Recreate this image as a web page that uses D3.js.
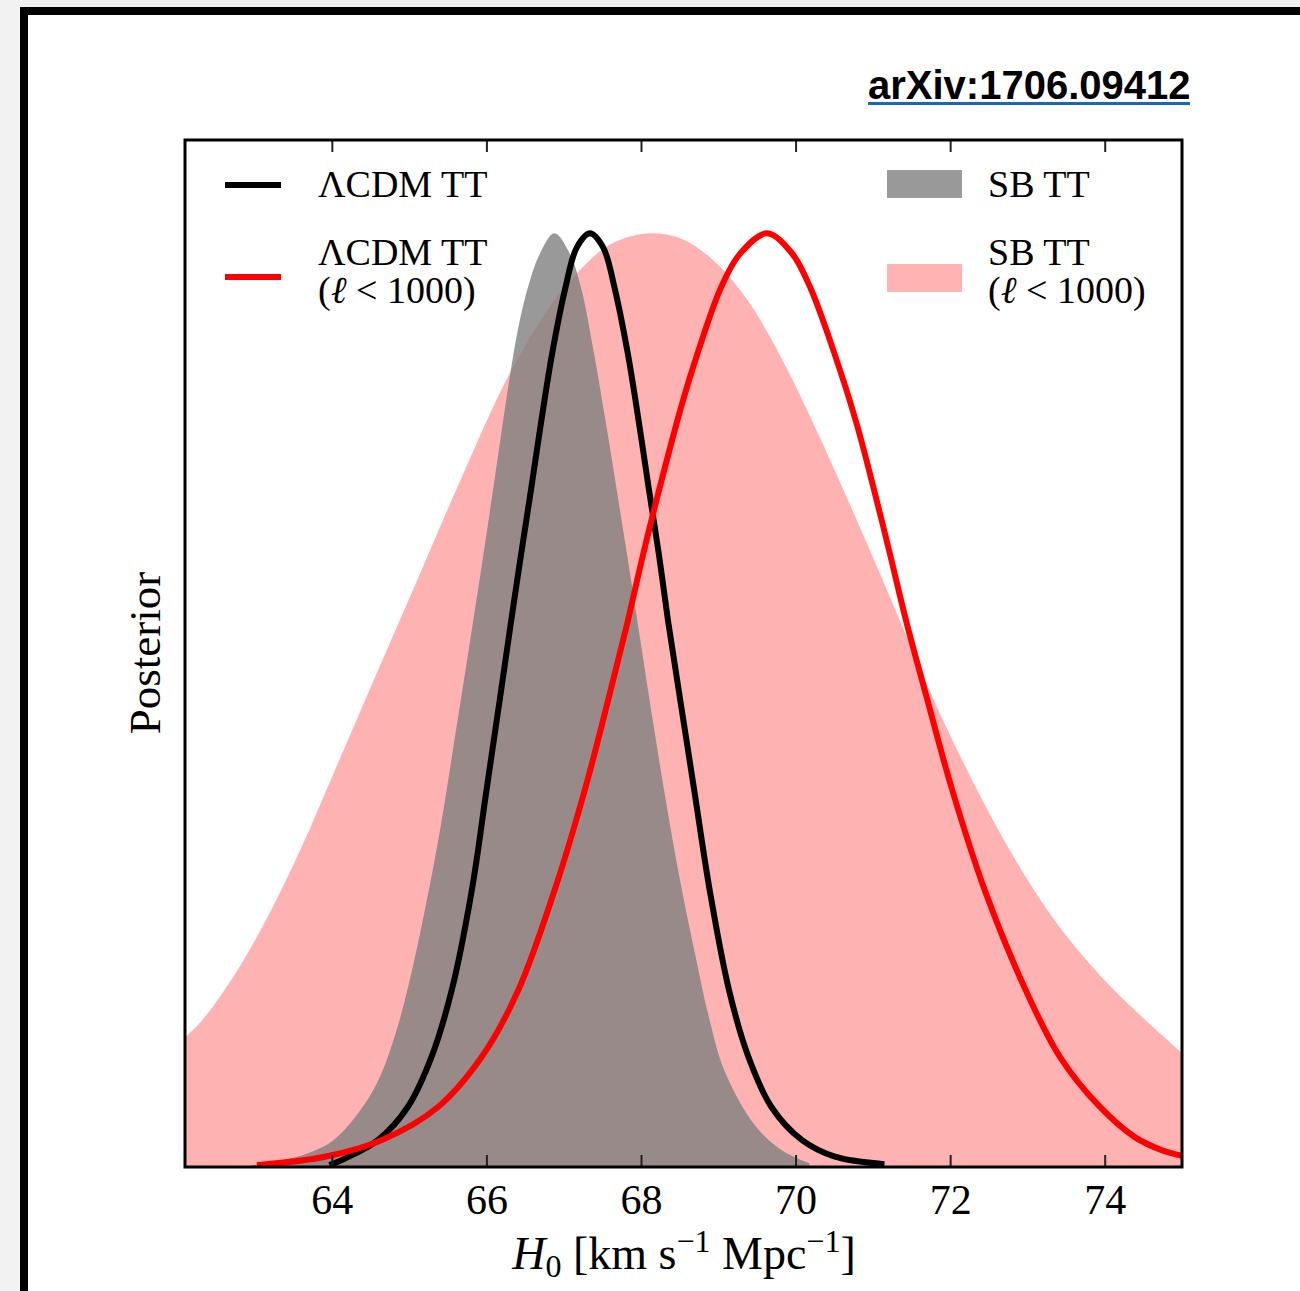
<!DOCTYPE html>
<html>
<head>
<meta charset="utf-8">
<script src="https://cdn.jsdelivr.net/npm/d3@7"></script>
<style>
  html, body { margin: 0; padding: 0; background: #ffffff; }
  svg { display: block; }
</style>
</head>
<body>
<svg id="chart" width="1300" height="1291"></svg>
<script>
// ---------------- DATA ----------------
const xTicks = [64, 66, 68, 70, 72, 74];
const yLabel = "Posterior";
const source = "arXiv:1706.09412";

// SB TT (l < 1000) : [H0, normalized posterior]
const sbTTlow = [
  [62.10,0.139],[62.32,0.157],[62.75,0.207],[63.17,0.268],[63.61,0.343],[64.04,0.425],
  [64.43,0.500],[65.07,0.622],[65.66,0.735],[66.30,0.850],[66.85,0.925],[67.20,0.960],
  [67.60,0.988],[68.10,1.000],[68.53,0.994],[68.95,0.970],[69.39,0.927],[69.82,0.866],
  [70.25,0.793],[70.69,0.712],[71.12,0.630],[71.54,0.548],[71.80,0.498],[72.19,0.430],
  [72.63,0.360],[73.06,0.300],[73.48,0.250],[73.92,0.207],[74.35,0.171],[75.00,0.122]
];
// SB TT
const sbTT = [
  [62.97,0.002],[63.30,0.006],[63.70,0.015],[64.04,0.030],[64.52,0.080],[64.85,0.150],
  [65.31,0.320],[65.63,0.480],[65.81,0.575],[65.95,0.650],[66.08,0.722],[66.20,0.790],
  [66.30,0.845],[66.41,0.898],[66.54,0.943],[66.69,0.978],[66.88,1.000],[67.08,0.978],
  [67.23,0.940],[67.38,0.877],[67.55,0.795],[67.70,0.718],[67.85,0.640],[67.99,0.565],
  [68.14,0.485],[68.31,0.398],[68.51,0.305],[68.70,0.228],[68.88,0.160],[69.08,0.103],
  [69.47,0.045],[69.82,0.018],[70.18,0.004]
];
// LCDM TT
const lcdmTT = [
  [63.97,0.002],[64.17,0.009],[64.60,0.029],[64.98,0.064],[65.29,0.118],[65.55,0.189],
  [65.81,0.296],[66.00,0.403],[66.17,0.499],[66.32,0.585],[66.45,0.657],[66.58,0.727],
  [66.71,0.799],[66.85,0.871],[67.02,0.941],[67.17,0.985],[67.34,1.000],[67.51,0.985],
  [67.66,0.941],[67.83,0.871],[67.97,0.799],[68.10,0.727],[68.23,0.657],[68.35,0.585],
  [68.51,0.499],[68.69,0.403],[68.89,0.296],[69.14,0.189],[69.39,0.118],[69.69,0.064],
  [70.08,0.029],[70.51,0.011],[71.15,0.003]
];
// LCDM TT (l < 1000)
const lcdmTTlow = [
  [63.03,0.002],[63.91,0.011],[64.65,0.029],[65.37,0.064],[65.94,0.118],[66.41,0.189],
  [66.88,0.296],[67.27,0.403],[67.59,0.505],[67.83,0.585],[68.03,0.657],[68.24,0.727],
  [68.54,0.820],[68.73,0.871],[69.03,0.941],[69.28,0.978],[69.63,1.000],[69.95,0.979],
  [70.19,0.942],[70.50,0.872],[70.78,0.799],[71.01,0.727],[71.22,0.657],[71.43,0.585],
  [71.69,0.505],[72.03,0.403],[72.45,0.296],[72.98,0.189],[73.42,0.118],[73.92,0.066],
  [74.39,0.032],[74.74,0.018],[75.00,0.012]
];

// ---------------- DRAWING ----------------
const svg = d3.select("#chart");
const L = 185, R = 1182, T = 140, B = 1167;
const serif = "'Liberation Serif', 'Times New Roman', serif";

// outer page frame
svg.append("rect").attr("x",0).attr("y",0).attr("width",1300).attr("height",1291).attr("fill","#ffffff");
svg.append("rect").attr("x",0).attr("y",0).attr("width",1300).attr("height",7).attr("fill","#efefef");
svg.append("rect").attr("x",0).attr("y",0).attr("width",20).attr("height",1291).attr("fill","#f2f2f2");
svg.append("rect").attr("x",20).attr("y",7).attr("width",1280).attr("height",8).attr("fill","#000");
svg.append("rect").attr("x",20).attr("y",7).attr("width",8).attr("height",1284).attr("fill","#000");

// source note
svg.append("text").attr("x",868).attr("y",99)
  .attr("font-family","'Liberation Sans', Arial, sans-serif").attr("font-weight","bold")
  .attr("font-size",40).attr("fill","#000").text(source);
svg.append("rect").attr("x",868).attr("y",102).attr("width",322).attr("height",3).attr("fill","#1466c8");

const xScale = d3.scaleLinear().domain([62.1, 75.0]).range([L, R]);
const yScale = d3.scaleLinear().domain([0, 1.1]).range([B, T]);

svg.append("defs").append("clipPath").attr("id","plotclip")
  .append("rect").attr("x",L).attr("y",T).attr("width",R-L).attr("height",B-T);

const plotG = svg.append("g").attr("clip-path","url(#plotclip)");

const smooth = d3.curveCatmullRom.alpha(0.5);
const areaGen = d3.area().x(d => xScale(d[0])).y0(yScale(0)).y1(d => yScale(d[1])).curve(smooth);
const lineGen = d3.line().x(d => xScale(d[0])).y(d => yScale(d[1])).curve(smooth);

plotG.append("path").datum(sbTTlow).attr("d", areaGen).attr("fill","#ff0000").attr("fill-opacity",0.3);
plotG.append("path").datum(sbTT).attr("d", areaGen).attr("fill","#808080").attr("fill-opacity",0.8);
plotG.append("path").datum(lcdmTT).attr("d", lineGen).attr("fill","none").attr("stroke","#000")
  .attr("stroke-width",6).attr("stroke-linejoin","round");
plotG.append("path").datum(lcdmTTlow).attr("d", lineGen).attr("fill","none").attr("stroke","#ff0000")
  .attr("stroke-width",6).attr("stroke-linejoin","round");

// axes
const bottomAxis = svg.append("g").attr("transform",`translate(0,${B})`)
  .call(d3.axisBottom(xScale).tickValues(xTicks).tickFormat(d3.format("d")).tickSizeInner(-12).tickSizeOuter(0).tickPadding(17));
bottomAxis.select(".domain").remove();
bottomAxis.selectAll(".tick line").attr("stroke","#222").attr("stroke-width",2);
bottomAxis.selectAll(".tick text").attr("font-family",serif).attr("font-size",42).attr("fill","#000");

const topAxis = svg.append("g").attr("transform",`translate(0,${T})`)
  .call(d3.axisTop(xScale).tickValues(xTicks).tickFormat("").tickSizeInner(-12).tickSizeOuter(0));
topAxis.select(".domain").remove();
topAxis.selectAll(".tick line").attr("stroke","#222").attr("stroke-width",2);

// frame
svg.append("rect").attr("x",L).attr("y",T).attr("width",R-L).attr("height",B-T)
  .attr("fill","none").attr("stroke","#000").attr("stroke-width",3);

// x label
const xl = svg.append("text").attr("x",684).attr("y",1269).attr("text-anchor","middle")
  .attr("font-family",serif).attr("font-size",46).attr("fill","#000");
xl.append("tspan").attr("font-style","italic").text("H");
xl.append("tspan").attr("font-size",32).attr("dy",8).text("0");
xl.append("tspan").attr("dy",-8).text(" [km s");
xl.append("tspan").attr("font-size",32).attr("dy",-17).text("−1");
xl.append("tspan").attr("dy",17).text(" Mpc");
xl.append("tspan").attr("font-size",32).attr("dy",-17).text("−1");
xl.append("tspan").attr("dy",17).text("]");

// y label
svg.append("text").attr("transform","translate(160,653) rotate(-90)").attr("text-anchor","middle")
  .attr("font-family",serif).attr("font-size",45).attr("fill","#000").text(yLabel);

// legend
const lg = svg.append("g").attr("font-family",serif).attr("font-size",38).attr("fill","#000");
lg.append("line").attr("x1",225).attr("x2",281).attr("y1",185).attr("y2",185).attr("stroke","#000").attr("stroke-width",6);
lg.append("text").attr("x",318).attr("y",197).text("ΛCDM TT");
lg.append("line").attr("x1",225).attr("x2",281).attr("y1",277).attr("y2",277).attr("stroke","#ff0000").attr("stroke-width",6);
lg.append("text").attr("x",318).attr("y",265).text("ΛCDM TT");
const t1 = lg.append("text").attr("x",318).attr("y",303);
t1.append("tspan").text("(");
t1.append("tspan").attr("font-style","italic").text("ℓ");
t1.append("tspan").text(" < 1000)");

lg.append("rect").attr("x",887).attr("y",170).attr("width",75).attr("height",28).attr("fill","#999999");
lg.append("text").attr("x",988).attr("y",197).text("SB TT");
lg.append("rect").attr("x",887).attr("y",264).attr("width",75).attr("height",28).attr("fill","#ffb3b3");
lg.append("text").attr("x",988).attr("y",265).text("SB TT");
const t2 = lg.append("text").attr("x",988).attr("y",303);
t2.append("tspan").text("(");
t2.append("tspan").attr("font-style","italic").text("ℓ");
t2.append("tspan").text(" < 1000)");
</script>
</body>
</html>
